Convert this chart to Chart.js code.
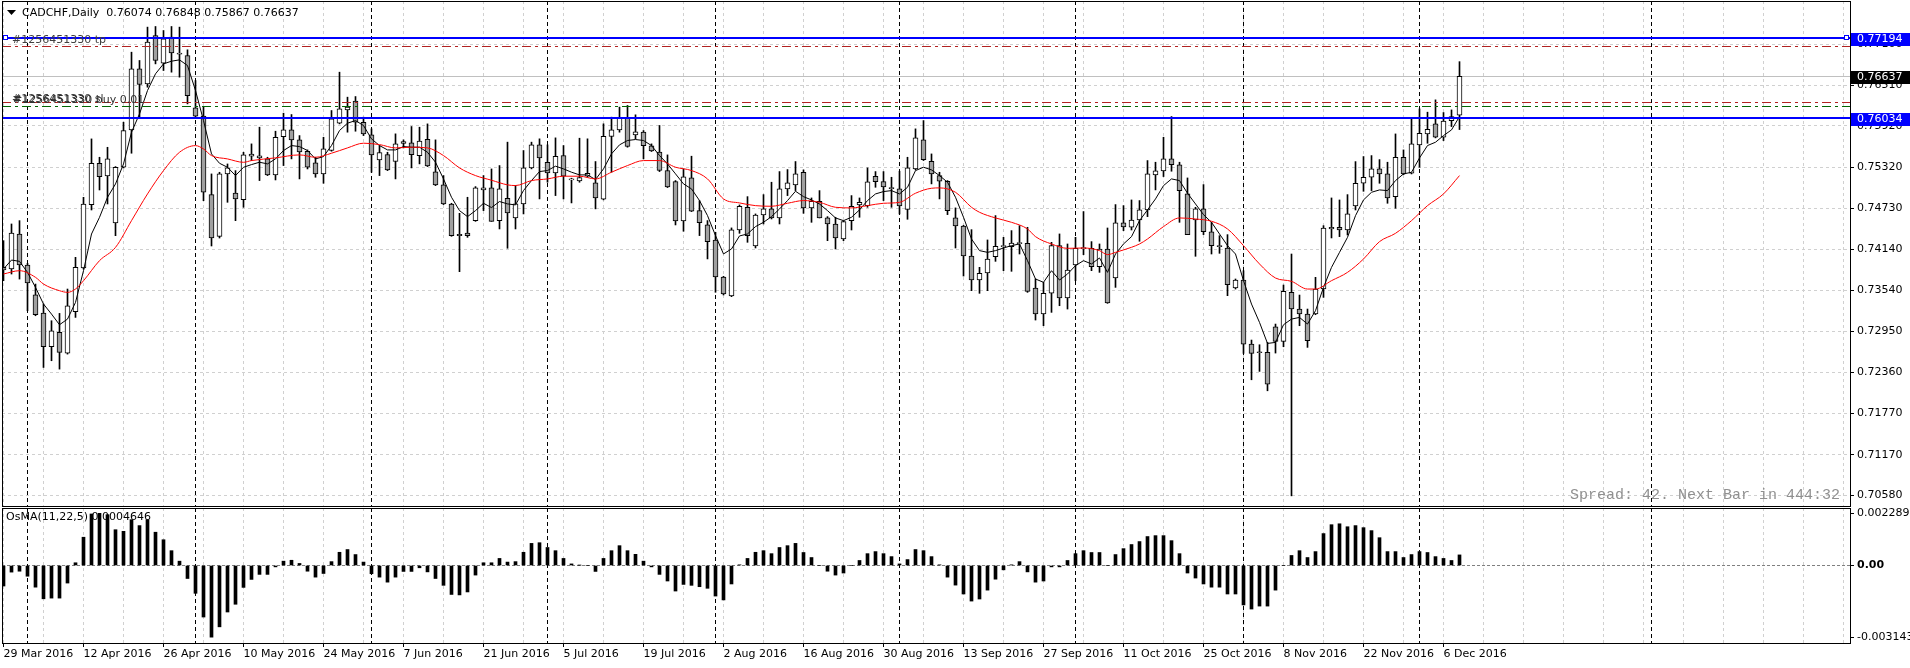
<!DOCTYPE html>
<html>
<head>
<meta charset="utf-8">
<title>CADCHF,Daily</title>
<script src="https://cdn.jsdelivr.net/npm/chart.js@4.4.1/dist/chart.umd.min.js"></script>
<style>
  html, body { margin: 0; padding: 0; background: #ffffff; overflow: hidden; }
  body { position: relative; width: 1910px; height: 668px; }
  canvas { position: absolute; left: 0; }
  #price-pane { top: -11px; }
  #osma-pane { top: 496px; }
</style>
</head>
<body>
<canvas id="price-pane" width="1910" height="530"></canvas>
<canvas id="osma-pane" width="1910" height="182"></canvas>
<script>
// CADCHF daily bars, bar 0 = 29 Mar 2016, last bar = 8 Dec 2016

const opens = [
  0.73838,0.73852,0.74358,0.73910,0.73481,0.73216,0.72729,0.72936,0.72637,0.73235,
  0.73867,0.74782,0.75380,0.75197,0.74517,0.75322,0.75862,0.76744,0.76527,0.77226,
  0.76826,0.77202,0.76966,0.76937,0.76180,0.76060,0.74927,0.74324,0.75226,0.74951,
  0.74855,0.75482,0.75458,0.75443,0.75212,0.75766,0.75862,0.75718,0.75554,0.75385,
  0.75226,0.75564,0.75959,0.76152,0.76277,0.75973,0.75790,0.75429,0.75506,0.75405,
  0.75665,0.75674,0.75491,0.75727,0.75255,0.75067,0.74792,0.74354,0.74373,0.74551,
  0.74995,0.75024,0.74552,0.74875,0.74590,0.74793,0.75313,0.75646,0.75395,0.75241,
  0.75492,0.75140,0.75125,0.75193,0.75097,0.74860,0.75767,0.75863,0.76032,0.75791,
  0.75829,0.75632,0.75540,0.75275,0.75116,0.74547,0.75169,0.74696,0.74489,0.74272,
  0.73737,0.73463,0.74416,0.74744,0.74185,0.74633,0.74720,0.74590,0.75009,0.75067,
  0.75250,0.74735,0.74831,0.74590,0.74503,0.74286,0.74551,0.74778,0.74768,0.75192,
  0.75115,0.75024,0.75009,0.74715,0.75298,0.75718,0.75409,0.75202,0.75120,0.74590,
  0.74474,0.74040,0.73693,0.73795,0.74031,0.74175,0.74175,0.74219,0.74224,0.73578,
  0.73202,0.73505,0.74190,0.73433,0.73910,0.74147,0.74151,0.73886,0.74142,0.73722,
  0.74518,0.74455,0.74561,0.74706,0.75212,0.75270,0.75443,0.75356,0.74937,0.74561,
  0.74720,0.74388,0.74185,0.74156,0.73578,0.73693,0.72768,0.72652,0.72647,0.73018,
  0.72806,0.73515,0.73274,0.73202,0.73202,0.73563,0.74455,0.74455,0.74416,0.74763,
  0.75091,0.75178,0.75298,0.75226,0.74898,0.75467,0.75236,0.75645,0.75804,0.75949,
  0.75756,0.75997,0.76074
];

const highs = [
  0.74262,0.74503,0.74551,0.73934,0.73635,0.73346,0.73105,0.73211,0.73563,0.74021,
  0.74888,0.75732,0.75467,0.75611,0.75332,0.75973,0.76985,0.76865,0.77347,0.77356,
  0.77298,0.77356,0.77347,0.77019,0.76575,0.76190,0.75226,0.75250,0.75370,0.75274,
  0.75539,0.75660,0.75901,0.75467,0.75843,0.76103,0.76084,0.75780,0.75573,0.75467,
  0.75756,0.76142,0.76696,0.76335,0.76344,0.76046,0.75877,0.75636,0.75539,0.75805,
  0.75718,0.75911,0.75901,0.75949,0.75718,0.75202,0.74802,0.74657,0.74889,0.75043,
  0.75202,0.75298,0.75347,0.75685,0.75058,0.75564,0.75685,0.75733,0.75646,0.75747,
  0.75636,0.75164,0.75742,0.75733,0.75405,0.75950,0.76046,0.76191,0.76215,0.76080,
  0.75853,0.75660,0.75926,0.75501,0.75130,0.75299,0.75482,0.74841,0.74552,0.74383,
  0.73747,0.74446,0.74778,0.74898,0.74648,0.74927,0.75106,0.75260,0.75289,0.75405,
  0.75284,0.74879,0.74985,0.74609,0.74600,0.74551,0.74913,0.74879,0.75313,0.75260,
  0.75260,0.75178,0.75265,0.75467,0.75877,0.75997,0.75515,0.75250,0.75130,0.74735,
  0.74484,0.74421,0.73877,0.74272,0.74624,0.74310,0.74407,0.74479,0.74455,0.73708,
  0.73660,0.74238,0.74359,0.74214,0.74310,0.74682,0.74248,0.74214,0.74445,0.74783,
  0.74768,0.74850,0.74841,0.75419,0.75395,0.75756,0.76055,0.75395,0.75168,0.74744,
  0.75072,0.74527,0.74334,0.74349,0.73708,0.73828,0.72826,0.72758,0.72792,0.73057,
  0.73621,0.74069,0.73476,0.73274,0.73732,0.74479,0.74879,0.74850,0.74927,0.75404,
  0.75477,0.75491,0.75433,0.75395,0.75804,0.75573,0.76021,0.76166,0.76118,0.76296,
  0.76113,0.76151,0.76848
];

const lows = [
  0.73683,0.73780,0.73707,0.73250,0.73177,0.72430,0.72527,0.72406,0.72623,0.73153,
  0.73852,0.74705,0.74994,0.74792,0.74334,0.75312,0.75525,0.76045,0.76479,0.76816,
  0.76720,0.76696,0.76624,0.76238,0.76045,0.74840,0.74185,0.74300,0.74816,0.74551,
  0.74744,0.75419,0.75130,0.75202,0.75139,0.75347,0.75443,0.75154,0.75298,0.75178,
  0.75091,0.75554,0.75949,0.75829,0.75843,0.75780,0.75250,0.75202,0.75274,0.75154,
  0.75602,0.75313,0.75371,0.75332,0.75057,0.74783,0.74325,0.73814,0.74310,0.74541,
  0.74696,0.74541,0.74431,0.74152,0.74431,0.74648,0.75299,0.74865,0.75106,0.74913,
  0.74865,0.74807,0.75106,0.75178,0.74721,0.74851,0.75251,0.75829,0.75612,0.75733,
  0.75444,0.75550,0.75260,0.75029,0.74489,0.74398,0.74682,0.74335,0.73998,0.73516,
  0.73477,0.73453,0.74368,0.74238,0.74156,0.74503,0.74575,0.74503,0.74913,0.74985,
  0.74657,0.74527,0.74590,0.74262,0.74142,0.74262,0.74416,0.74600,0.74744,0.75033,
  0.74841,0.74744,0.74648,0.74571,0.75284,0.75419,0.75082,0.74865,0.74638,0.74156,
  0.73751,0.73539,0.73501,0.73539,0.73963,0.73828,0.73819,0.74069,0.73515,0.73115,
  0.73033,0.73226,0.73322,0.73274,0.73684,0.74060,0.73828,0.73804,0.73356,0.73587,
  0.74407,0.74416,0.74253,0.74609,0.74995,0.75188,0.75265,0.74527,0.74349,0.74036,
  0.74349,0.74069,0.74079,0.73467,0.73563,0.72633,0.72252,0.72373,0.72093,0.72638,
  0.72729,0.70575,0.73033,0.72720,0.73192,0.73443,0.74301,0.74320,0.74344,0.74705,
  0.74975,0.74985,0.75091,0.74802,0.74730,0.75216,0.75226,0.75322,0.75669,0.75747,
  0.75708,0.75910,0.75867
];

const closes = [
  0.73876,0.74373,0.73910,0.73650,0.73192,0.72729,0.72960,0.72647,0.73322,0.73876,
  0.74792,0.75380,0.75187,0.75443,0.75322,0.75852,0.76744,0.76518,0.77130,0.76865,
  0.77178,0.76975,0.76956,0.76358,0.76060,0.74961,0.74300,0.75226,0.75313,0.74864,
  0.75501,0.75511,0.75486,0.75212,0.75756,0.75862,0.75718,0.75544,0.75323,0.75226,
  0.75588,0.76021,0.76166,0.76190,0.75973,0.75805,0.75501,0.75535,0.75284,0.75660,
  0.75694,0.75506,0.75699,0.75342,0.75067,0.74792,0.74334,0.74334,0.74334,0.75024,
  0.75024,0.74541,0.75010,0.74663,0.74793,0.75313,0.75646,0.75458,0.75241,0.75482,
  0.75193,0.75140,0.75174,0.75236,0.74880,0.75771,0.75863,0.76032,0.75622,0.75834,
  0.75636,0.75559,0.75275,0.75039,0.74547,0.75183,0.74687,0.74523,0.74248,0.73737,
  0.73491,0.74417,0.74759,0.74334,0.74633,0.74720,0.74590,0.75009,0.75096,0.75226,
  0.74735,0.74831,0.74590,0.74503,0.74301,0.74537,0.74759,0.74816,0.75111,0.75115,
  0.75038,0.75014,0.74763,0.75313,0.75747,0.75433,0.75226,0.75120,0.74696,0.74474,
  0.74040,0.73693,0.73790,0.73997,0.74180,0.74185,0.74228,0.74228,0.73530,0.73202,
  0.73501,0.74190,0.73433,0.73838,0.74151,0.74156,0.73886,0.74142,0.73361,0.74518,
  0.74460,0.74561,0.74706,0.75226,0.75270,0.75443,0.75361,0.74985,0.74349,0.74720,
  0.74392,0.74190,0.74175,0.73626,0.73693,0.72768,0.72633,0.72642,0.72189,0.72806,
  0.73529,0.73274,0.73202,0.72816,0.73563,0.74445,0.74431,0.74416,0.74648,0.75091,
  0.75178,0.75298,0.75226,0.74879,0.75467,0.75226,0.75660,0.75814,0.75872,0.75756,
  0.75988,0.76055,0.76637
];

// black moving average, one value per bar
const fastMa = [
  0.73852,0.73982,0.73963,0.73804,0.73587,0.73346,0.73201,0.73047,0.73129,0.73370,
  0.73828,0.74358,0.74599,0.74888,0.75081,0.75370,0.75828,0.76093,0.76431,0.76672,
  0.76816,0.76855,0.76874,0.76792,0.76431,0.75997,0.75515,0.75380,0.75322,0.75202,
  0.75322,0.75361,0.75395,0.75371,0.75443,0.75564,0.75636,0.75621,0.75564,0.75443,
  0.75477,0.75636,0.75853,0.75959,0.75997,0.75925,0.75732,0.75636,0.75573,0.75573,
  0.75621,0.75612,0.75612,0.75539,0.75395,0.75154,0.74889,0.74696,0.74609,0.74696,
  0.74802,0.74740,0.74827,0.74793,0.74778,0.74986,0.75130,0.75260,0.75275,0.75338,
  0.75299,0.75251,0.75212,0.75212,0.75145,0.75299,0.75516,0.75646,0.75709,0.75723,
  0.75709,0.75636,0.75492,0.75371,0.75227,0.75082,0.75010,0.74841,0.74624,0.74335,
  0.74070,0.74142,0.74330,0.74359,0.74465,0.74527,0.74609,0.74720,0.74841,0.74976,
  0.74898,0.74850,0.74792,0.74696,0.74590,0.74551,0.74600,0.74706,0.74841,0.74937,
  0.74971,0.74985,0.74937,0.75033,0.75274,0.75323,0.75284,0.75202,0.75106,0.74889,
  0.74600,0.74286,0.74118,0.74093,0.74118,0.74156,0.74190,0.74214,0.73973,0.73708,
  0.73660,0.73828,0.73693,0.73780,0.73901,0.73973,0.73925,0.74012,0.73804,0.74069,
  0.74214,0.74320,0.74551,0.74706,0.74865,0.75057,0.75154,0.75130,0.74947,0.74792,
  0.74638,0.74527,0.74359,0.74190,0.74069,0.73684,0.73346,0.73081,0.72777,0.72792,
  0.73047,0.73129,0.73153,0.73057,0.73250,0.73587,0.73876,0.74093,0.74310,0.74623,
  0.74850,0.74961,0.74995,0.74985,0.75130,0.75226,0.75250,0.75457,0.75636,0.75684,
  0.75780,0.75862,0.76055
];

// red moving average, read at these bars
const slowMaBars = [
  0,2,4,5,7,8,9,10,12,14,16,18,20,22,24,25,26,28,30,
  31,34,37,39,41,43,45,47,49,51,53,55,57,59,61,
  63,64,66,68,70,72,74,76,78,80,82,84,86,88,90,92,
  94,96,98,100,102,104,106,108,110,112,114,116,117,119,121,122,
  124,126,128,129,131,133,135,137,138,139,141,142,143,145,147,149,151,153,
  155,157,159,161,163,164,166,168,170,172,174,176,178,180,182
];
const slowMa = [
  0.73780,0.73828,0.73732,0.73635,0.73539,0.73515,0.73563,0.73683,0.73973,0.74165,0.74551,0.74937,0.75274,0.75539,0.75635,0.75587,0.75491,0.75443,0.75394,
  0.75419,0.75458,0.75501,0.75467,0.75525,0.75602,0.75670,0.75650,0.75602,0.75612,0.75602,0.75491,0.75313,0.75202,0.75135,
  0.75068,0.75058,0.75130,0.75154,0.75193,0.75193,0.75154,0.75251,0.75347,0.75419,0.75419,0.75323,0.75275,0.75154,0.74865,0.74807,
  0.74768,0.74759,0.74802,0.74841,0.74816,0.74744,0.74735,0.74768,0.74802,0.74816,0.74947,0.75019,0.75024,0.74961,0.74744,0.74672,
  0.74590,0.74527,0.74431,0.74320,0.74214,0.74151,0.74156,0.74118,0.74060,0.74093,0.74166,0.74214,0.74286,0.74465,0.74590,0.74575,0.74542,0.74431,
  0.74190,0.73925,0.73722,0.73674,0.73563,0.73563,0.73684,0.73804,0.73997,0.74248,0.74368,0.74551,0.74768,0.74937,0.75202
];

// OsMA(11,22,5) histogram
const osma = [
  -0.00090,-0.00029,-0.00025,-0.00047,-0.00095,-0.00146,-0.00143,-0.00143,-0.00077,0.00012,
  0.00124,0.00226,0.0022892,0.00223,0.00157,0.00150,0.00201,0.00175,0.00201,0.00146,
  0.00113,0.00065,0.00019,-0.00057,-0.00122,-0.00226,-0.003143,-0.00269,-0.00204,-0.00170,
  -0.00096,-0.00061,-0.00039,-0.00039,-0.00006,0.00019,0.00023,0.00009,-0.00025,-0.00051,
  -0.00035,0.00017,0.00058,0.00070,0.00048,0.00015,-0.00036,-0.00051,-0.00073,-0.00051,
  -0.00026,-0.00026,-0.00010,-0.00028,-0.00057,-0.00087,-0.00127,-0.00129,-0.00116,-0.00042,
  0.00012,0.00012,0.00031,0.00015,0.00017,0.00058,0.00097,0.00100,0.00079,0.00065,
  0.00031,0.00007,0.00001,0,-0.00026,0.00031,0.00065,0.00087,0.00065,0.00049,
  0.00019,-0.00006,-0.00039,-0.00068,-0.00112,-0.00083,-0.00087,-0.00093,-0.00100,-0.00134,
  -0.00151,-0.00081,0.00003,0.00031,0.00058,0.00065,0.00052,0.00079,0.00087,0.00097,
  0.00057,0.00035,0,-0.00025,-0.00042,-0.00033,0,0.00022,0.00052,0.00061,
  0.00052,0.00039,0.00007,0.00026,0.00070,0.00065,0.00039,0.00003,-0.00051,-0.00086,
  -0.00125,-0.00156,-0.00147,-0.00108,-0.00060,-0.00019,0.00003,0.00017,-0.00028,-0.00073,
  -0.00068,-0.00006,-0.00006,0.00022,0.00052,0.00065,0.00057,0.00057,0,0.00048,
  0.00074,0.00092,0.00105,0.00127,0.00131,0.00131,0.00109,0.00052,-0.00033,-0.00055,
  -0.00081,-0.00095,-0.00095,-0.00125,-0.00125,-0.00173,-0.00191,-0.00178,-0.00178,-0.00108,
  0,0.00044,0.00065,0.00035,0.00061,0.00140,0.00179,0.00183,0.00170,0.00175,
  0.00166,0.00153,0.00122,0.00061,0.00061,0.00035,0.00048,0.00061,0.00057,0.00039,
  0.00031,0.00022,0.0004646
];

// one date label every 10 bars
const dateLabels = [
  '29 Mar 2016','12 Apr 2016','26 Apr 2016','10 May 2016','24 May 2016','7 Jun 2016',
  '21 Jun 2016','5 Jul 2016','19 Jul 2016','2 Aug 2016','16 Aug 2016','30 Aug 2016',
  '13 Sep 2016','27 Sep 2016','11 Oct 2016','25 Oct 2016','8 Nov 2016','22 Nov 2016','6 Dec 2016'
];
const priceTicks = [0.77100,0.76510,0.75920,0.75320,0.74730,0.74140,0.73540,0.72950,0.72360,0.71770,0.71170,0.70580];
const osmaTicks = [-0.003143, 0, 0.0022892];
const osmaTickLabels = ['-0.003143', '0.00', '0.0022892'];

// first bar of each month (period separators)
const monthStarts = [3, 24, 46, 68, 89, 112, 134, 155, 177, 206];

// horizontal lines and order levels
const blueLevels = [0.77194, 0.76034];
const orderLevels = [0.77067, 0.76254, 0.76196];
const orderTexts = ['#1256451330 tp', '#1256451330 sl', '#1256451330 buy 0.01'];
const bidPrice = 0.76637;
const headerText = 'CADCHF,Daily  0.76074 0.76848 0.75867 0.76637';
const osmaText = 'OsMA(11,22,5) 0.0004646';
const spreadText = 'Spread: 42. Next Bar in 444:32';

// ---------------------------------------------------------------

Chart.defaults.font.family = '"DejaVu Sans", sans-serif';
Chart.defaults.font.size = 11;
Chart.defaults.color = '#000000';
Chart.defaults.animation = false;
Chart.defaults.plugins.legend.display = false;
Chart.defaults.plugins.tooltip.enabled = false;

const FONT = '11px "DejaVu Sans"';
const GRID = '#d0d0d0';
const BEAR = '#a0a0a0';

const xMin = -0.1875, xMax = 230.8125;
const gridBars = [];
for (let b = 0; b <= 230; b += 5) gridBars.push(b);

const bars = closes.map((c, i) => i);
const wicks = bars.map(i => ({ x: i, y: [lows[i], highs[i]] }));
const bodies = bars.map(i => ({ x: i, y: [opens[i], closes[i]] }));
const bodyColors = bars.map(i => closes[i] >= opens[i] ? '#ffffff' : BEAR);

function barAxis(withLabels) {
  return {
    type: 'linear', min: xMin, max: xMax, bounds: 'data', offset: false,
    afterBuildTicks: s => { s.ticks = gridBars.map(v => ({ value: v })); },
    afterFit: s => { s.height = withLabels ? 30 : 0; },
    grid: {
      offset: false, color: GRID, drawTicks: withLabels, tickLength: 3,
      tickColor: c => (c.tick && c.tick.value % 10 === 0 && c.tick.value <= 180) ? '#000000' : 'rgba(0,0,0,0)'
    },
    border: { display: false, dash: [3, 3] },
    ticks: withLabels ? {
      display: true, autoSkip: false, maxRotation: 0, minRotation: 0, align: 'start', padding: 1,
      callback: v => (v % 10 === 0 && v / 10 < dateLabels.length) ? dateLabels[v / 10] : ''
    } : { display: false }
  };
}

function drawSeparators(ctx, a, x) {
  ctx.save();
  ctx.strokeStyle = '#000000';
  ctx.lineWidth = 1;
  ctx.setLineDash([4, 3]);
  for (const b of monthStarts) {
    const px = Math.floor(x.getPixelForValue(b)) + 0.5;
    ctx.beginPath();
    ctx.moveTo(px, a.top);
    ctx.lineTo(px, a.bottom);
    ctx.stroke();
  }
  ctx.restore();
}

function drawFrame(ctx, a) {
  ctx.save();
  ctx.strokeStyle = '#000000';
  ctx.lineWidth = 1;
  ctx.setLineDash([]);
  ctx.strokeRect(a.left + 0.5, a.top + 0.5, a.right - a.left, a.bottom - a.top - 1);
  ctx.restore();
}

const mainOverlay = {
  id: 'mainOverlay',
  beforeDatasetsDraw(chart) {
    const { ctx, chartArea: a, scales: { x, y } } = chart;
    ctx.save();
    const yb = Math.floor(y.getPixelForValue(bidPrice)) + 0.5;
    ctx.strokeStyle = '#c0c0c0';
    ctx.lineWidth = 1;
    ctx.beginPath();
    ctx.moveTo(a.left, yb);
    ctx.lineTo(a.right, yb);
    ctx.stroke();
    ctx.restore();
    drawSeparators(ctx, a, x);
  },
  afterDatasetsDraw(chart) {
    const { ctx, chartArea: a, scales: { y } } = chart;
    ctx.save();
    // order levels (dash-dot)
    const orderColors = ['#b22222', '#b22222', '#006400'];
    ctx.lineWidth = 1;
    ctx.setLineDash([9, 4, 3, 4]);
    orderLevels.forEach((p, k) => {
      const py = Math.floor(y.getPixelForValue(p)) + 0.5;
      ctx.strokeStyle = orderColors[k];
      ctx.beginPath();
      ctx.moveTo(a.left, py);
      ctx.lineTo(a.right, py);
      ctx.stroke();
    });
    ctx.setLineDash([]);
    // blue horizontal lines
    ctx.fillStyle = '#0000ff';
    for (const p of blueLevels) {
      const py = Math.round(y.getPixelForValue(p)) - 1;
      ctx.fillRect(a.left, py, a.right - a.left, 2);
    }
    // selection squares on the upper line
    const ys = Math.round(y.getPixelForValue(blueLevels[0])) - 3;
    for (const sx of [a.left + 1, a.right - 6]) {
      ctx.fillStyle = '#0000ff';
      ctx.fillRect(sx, ys, 5, 5);
      ctx.fillStyle = '#ffffff';
      ctx.fillRect(sx + 1, ys + 1, 3, 3);
    }
    // order labels
    ctx.font = FONT;
    ctx.textBaseline = 'alphabetic';
    ctx.textAlign = 'left';
    const shifts = [-4, -1, -4];
    orderTexts.forEach((t, k) => {
      const py = Math.round(y.getPixelForValue(orderLevels[k])) + shifts[k];
      ctx.fillStyle = k === 2 ? '#303030' : '#404040';
      ctx.fillText(t, a.left + 10 + (k === 2 ? 1 : 0), py);
    });
    ctx.restore();
  },
  afterDraw(chart) {
    const { ctx, chartArea: a, scales: { y } } = chart;
    drawFrame(ctx, a);
    const top = a.top - 1;  // page row 0 in canvas space
    ctx.save();
    // header
    ctx.fillStyle = '#000000';
    ctx.beginPath();
    ctx.moveTo(7, top + 10);
    ctx.lineTo(16, top + 10);
    ctx.lineTo(11.5, top + 15);
    ctx.closePath();
    ctx.fill();
    ctx.font = FONT;
    ctx.textAlign = 'left';
    ctx.textBaseline = 'middle';
    ctx.fillText(headerText, 22, top + 13);
    // spread text
    ctx.font = '15px "Liberation Mono", monospace';
    ctx.fillStyle = '#909090';
    ctx.textAlign = 'right';
    ctx.fillText(spreadText, 1840, top + 495);
    // axis price tags
    const tagColors = ['#0000ff', '#000000', '#0000ff'];
    [blueLevels[0], bidPrice, blueLevels[1]].forEach((p, k) => {
      const py = Math.round(y.getPixelForValue(p));
      ctx.fillStyle = tagColors[k];
      ctx.fillRect(a.right + 1, py - 5, 1910 - a.right - 1, 13);
      ctx.fillStyle = '#ffffff';
      ctx.font = FONT;
      ctx.textAlign = 'left';
      ctx.textBaseline = 'middle';
      ctx.fillText(p.toFixed(5), a.right + 7, py + 1.5);
    });
    ctx.restore();
  }
};

const osmaOverlay = {
  id: 'osmaOverlay',
  beforeDatasetsDraw(chart) {
    drawSeparators(chart.ctx, chart.chartArea, chart.scales.x);
  },
  afterDraw(chart) {
    const { ctx, chartArea: a } = chart;
    drawFrame(ctx, a);
    ctx.save();
    ctx.font = FONT;
    ctx.fillStyle = '#000000';
    ctx.textAlign = 'left';
    ctx.textBaseline = 'middle';
    ctx.fillText(osmaText, 6, a.top + 9);
    ctx.restore();
  }
};

const priceChart = new Chart(document.getElementById('price-pane'), {
  type: 'bar',
  data: {
    datasets: [
      {
        type: 'line', label: 'MA slow', data: slowMaBars.map((b, k) => ({ x: b, y: slowMa[k] })),
        borderColor: '#ff0000', borderWidth: 1, pointRadius: 0, cubicInterpolationMode: 'monotone', order: -2
      },
      {
        type: 'line', label: 'MA fast', data: bars.map(i => ({ x: i, y: fastMa[i] })),
        borderColor: '#000000', borderWidth: 1, pointRadius: 0, tension: 0, order: -1
      },
      {
        label: 'body', data: bodies, backgroundColor: bodyColors, borderColor: '#000000',
        borderWidth: 1, borderSkipped: false, barThickness: 5, minBarLength: 1, grouped: false, order: 0
      },
      {
        label: 'wick', data: wicks, backgroundColor: '#000000',
        borderWidth: 0, barThickness: 1, grouped: false, order: 1
      }
    ]
  },
  options: {
    responsive: false,
    devicePixelRatio: 1,
    layout: { padding: { top: 12, bottom: 12, left: 2, right: 0 } },
    scales: {
      x: barAxis(false),
      y: {
        type: 'linear', position: 'right', min: 0.704139, max: 0.777244, bounds: 'data',
        afterBuildTicks: s => { s.ticks = priceTicks.map(v => ({ value: v })); },
        afterFit: s => { s.width = 60; },
        grid: { color: GRID, tickColor: '#000000', tickLength: 4 },
        border: { display: false, dash: [3, 3] },
        ticks: { padding: 3, autoSkip: false, callback: v => v.toFixed(5) }
      }
    }
  },
  plugins: [mainOverlay]
});

const osmaChart = new Chart(document.getElementById('osma-pane'), {
  type: 'bar',
  data: {
    datasets: [{
      label: 'OsMA', data: bars.map(i => ({ x: i, y: osma[i] })),
      backgroundColor: '#000000', borderWidth: 0, barThickness: 3, grouped: false
    }]
  },
  options: {
    responsive: false,
    devicePixelRatio: 1,
    layout: { padding: { top: 12, bottom: 4, left: 2, right: 0 } },
    scales: {
      x: barAxis(true),
      y: {
        type: 'linear', position: 'right', min: -0.003443, max: 0.002522, bounds: 'data',
        afterBuildTicks: s => { s.ticks = osmaTicks.map(v => ({ value: v })); },
        afterFit: s => { s.width = 60; },
        grid: {
          color: c => (c.tick && c.tick.value === 0) ? '#808080' : 'rgba(0,0,0,0)',
          tickColor: '#000000', tickLength: 4
        },
        border: { display: false, dash: [3, 2] },
        ticks: {
          padding: 3, autoSkip: false,
          callback: (v, i) => osmaTickLabels[i],
          font: c => ({ family: '"DejaVu Sans"', size: 11, weight: (c.tick && c.tick.value === 0) ? 'bold' : 'normal' })
        }
      }
    }
  },
  plugins: [osmaOverlay]
});
</script>
</body>
</html>
